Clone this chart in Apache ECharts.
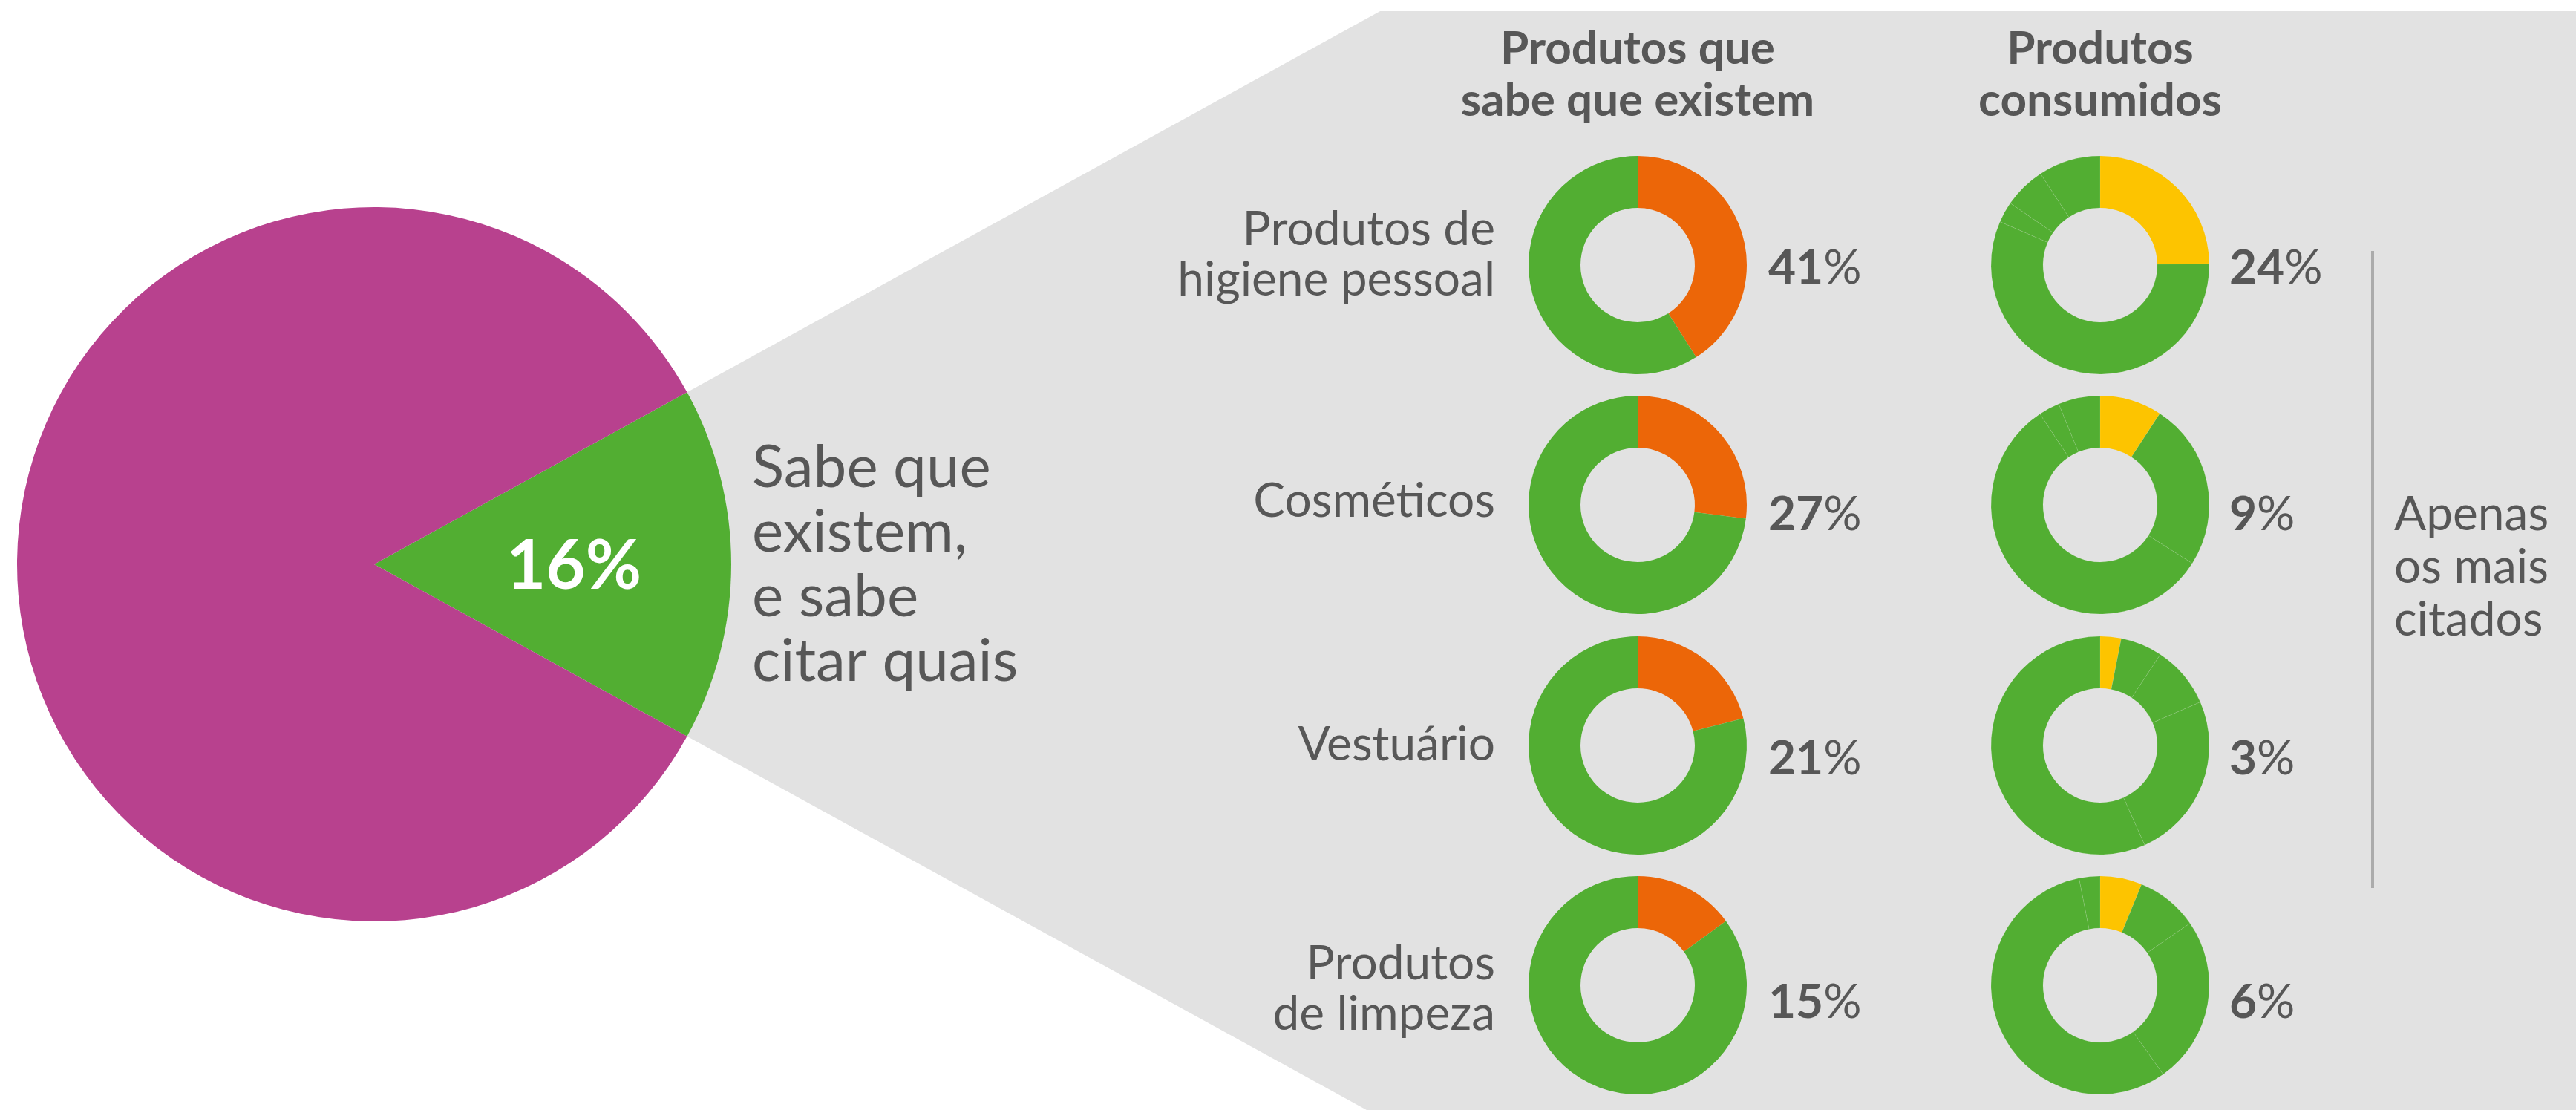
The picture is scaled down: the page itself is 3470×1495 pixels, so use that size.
<!DOCTYPE html>
<html>
<head>
<meta charset="utf-8">
<title>Produtos que sabe que existem / consumidos</title>
<script src="https://cdn.jsdelivr.net/npm/echarts@6/dist/echarts.min.js"></script>
<style>
  html, body { margin: 0; padding: 0; background: #ffffff; }
  #chart { width: 3470px; height: 1495px; }
</style>
</head>
<body>
<div id="chart"></div>
<script>
// pizza grande
const resumoNomes = ['Sabe que existem, e sabe citar quais', 'Restante'];
const resumoValores = [16, 84];
const resumoTexto = ['Sabe que', 'existem,', 'e sabe', 'citar quais'];

// linhas
const categorias = [['Produtos de', 'higiene pessoal'], ['Cosméticos'], ['Vestuário'], ['Produtos', 'de limpeza']];
const sabeExistem = [41, 27, 21, 15];
const consumidos = [24, 9, 3, 6];

// anel dos consumidos (mesma distribuição, girada para cada linha)
const anelNomes = ['Produtos de higiene pessoal', 'Outros', 'Vestuário', 'Produtos de limpeza', 'Cosméticos'];
const anelValores = [24.8, 56.7, 3.1, 6.2, 9.2];
const destaqueNoAnel = [0, 4, 2, 3];

const titulos = [['Produtos que', 'sabe que existem'], ['Produtos', 'consumidos']];
const notaLateral = ['Apenas', 'os mais', 'citados'];

const COR = {
  roxo: '#B8418E',
  verde: '#52AE32',
  laranja: '#EC6608',
  amarelo: '#FDC400',
  fundo: '#E2E2E2',
  texto: '#575757'
};
const FONTE = 'Lato';

const W = 3470, H = 1495;
const pieCenter = [504, 760];
const pieR = 481;
const colX = [2206, 2829];
const rowY = [357, 680, 1004, 1327];
const labelY = [343, 675, 1003, 1332];
const pctY = [361, 693, 1022, 1350];
const pctX = [2382, 3003];

function renderChart() {
  const myChart = echarts.init(document.getElementById('chart'), null, { renderer: 'canvas' });

  const meioAngulo = resumoValores[0] / 100 * 360 / 2;
  const tg = Math.tan(meioAngulo * Math.PI / 180);
  const topoY = 15;
  const xTopo = pieCenter[0] + (pieCenter[1] - topoY) / tg;
  const xBase = pieCenter[0] + (H - pieCenter[1]) / tg;

  const series = [];

  // pizza principal
  series.push({
    type: 'pie',
    center: pieCenter,
    radius: pieR,
    startAngle: meioAngulo,
    silent: true,
    label: { show: false },
    labelLine: { show: false },
    data: resumoNomes.map((n, i) => ({
      name: n,
      value: resumoValores[i],
      itemStyle: { color: i === 0 ? COR.verde : COR.roxo }
    }))
  });

  // rosquinhas
  rowY.forEach((y, i) => {
    series.push({
      type: 'pie',
      center: [colX[0], y],
      radius: [77, 147],
      startAngle: 90,
      silent: true,
      label: { show: false },
      labelLine: { show: false },
      data: [
        { name: categorias[i].join(' '), value: sabeExistem[i], itemStyle: { color: COR.laranja } },
        { name: 'Outros', value: 100 - sabeExistem[i], itemStyle: { color: COR.verde } }
      ]
    });

    const n = anelValores.length;
    const ordem = anelValores.map((_, k) => (destaqueNoAnel[i] + k) % n);
    series.push({
      type: 'pie',
      center: [colX[1], y],
      radius: [77, 147],
      startAngle: 90,
      silent: true,
      label: { show: false },
      labelLine: { show: false },
      data: ordem.map((idx, k) => ({
        name: anelNomes[idx],
        value: anelValores[idx],
        itemStyle: k === 0
          ? { color: COR.amarelo }
          : { color: COR.verde, borderColor: 'rgba(255,255,255,0.13)', borderWidth: 0.8 }
      }))
    });
  });

  const graphic = [];

  // faixa cinza que sai da fatia verde
  graphic.push({
    type: 'polygon',
    z: 0,
    shape: {
      points: [pieCenter, [xTopo, topoY], [W, topoY], [W, H], [xBase, H]]
    },
    style: { fill: COR.fundo }
  });

  // titulos das colunas
  titulos.forEach((t, c) => {
    graphic.push({
      type: 'text',
      z: 10,
      x: colX[c],
      y: 101,
      style: {
        text: t.join('\n'),
        font: 'bold 62px ' + FONTE,
        fill: COR.texto,
        textAlign: 'center',
        textVerticalAlign: 'middle',
        lineHeight: 70
      }
    });
  });

  // rotulos das linhas e percentuais
  categorias.forEach((cat, i) => {
    graphic.push({
      type: 'text',
      z: 10,
      x: 2014,
      y: labelY[i],
      style: {
        text: cat.join('\n'),
        font: '64px ' + FONTE,
        fill: COR.texto,
        textAlign: 'right',
        textVerticalAlign: 'middle',
        lineHeight: 68
      }
    });
    [sabeExistem[i], consumidos[i]].forEach((v, c) => {
      graphic.push({
        type: 'text',
        z: 10,
        x: pctX[c],
        y: pctY[i],
        style: {
          text: '{n|' + v + '}{p|%}',
          textAlign: 'left',
          textVerticalAlign: 'middle',
          rich: {
            n: { fontSize: 64, fontWeight: 'bold', fontFamily: FONTE, fill: COR.texto },
            p: { fontSize: 64, fontWeight: 'normal', fontFamily: FONTE, fill: COR.texto }
          }
        }
      });
    });
  });

  // texto da pizza grande
  graphic.push({
    type: 'text',
    z: 10,
    x: 773,
    y: 763,
    style: {
      text: resumoValores[0] + '%',
      font: 'bold 92px ' + FONTE,
      fill: '#ffffff',
      textAlign: 'center',
      textVerticalAlign: 'middle'
    }
  });
  graphic.push({
    type: 'text',
    z: 10,
    x: 1013,
    y: 761,
    style: {
      text: resumoTexto.join('\n'),
      font: '80px ' + FONTE,
      fill: COR.texto,
      textAlign: 'left',
      textVerticalAlign: 'middle',
      lineHeight: 87
    }
  });

  // nota lateral
  graphic.push({
    type: 'line',
    z: 10,
    shape: { x1: 3196, y1: 338, x2: 3196, y2: 1196 },
    style: { stroke: '#ABABAB', lineWidth: 4 }
  });
  graphic.push({
    type: 'text',
    z: 10,
    x: 3225,
    y: 764,
    style: {
      text: notaLateral.join('\n'),
      font: '64px ' + FONTE,
      fill: COR.texto,
      textAlign: 'left',
      textVerticalAlign: 'middle',
      lineHeight: 71
    }
  });

  myChart.setOption({
    backgroundColor: '#ffffff',
    animation: false,
    series: series,
    graphic: graphic
  });
}

renderChart();
</script>
</body>
</html>
